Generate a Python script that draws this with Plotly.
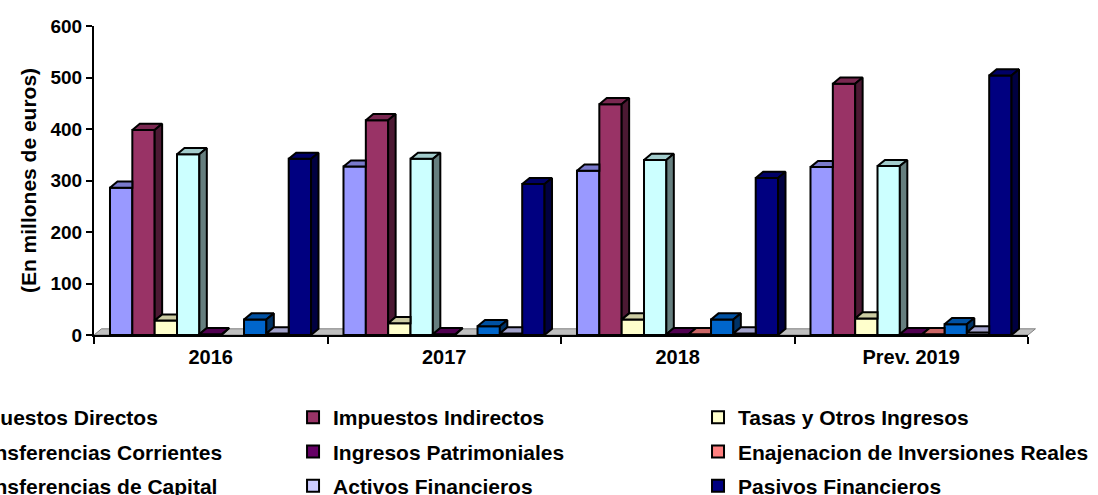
import plotly.graph_objects as go

# ---------------- data ----------------
categories = ["2016", "2017", "2018", "Prev. 2019"]
series_names = [
    "Impuestos Directos",
    "Impuestos Indirectos",
    "Tasas y Otros Ingresos",
    "Transferencias Corrientes",
    "Ingresos Patrimoniales",
    "Enajenacion de Inversiones Reales",
    "Transferencias de Capital",
    "Activos Financieros",
    "Pasivos Financieros",
]
impuestos_directos = [286, 327, 319, 326]
impuestos_indirectos = [398, 417, 448, 488]
tasas_otros = [28, 23, 30, 32]
transf_corrientes = [351, 342, 340, 328]
ingresos_patrimoniales = [1.5, 1.5, 1.5, 1.5]
enajenacion_inversiones = [0, 0, 1.5, 1.5]
transf_capital = [30, 17, 30, 21]
activos_financieros = [3, 3, 3, 5]
pasivos_financieros = [342, 293, 305, 504]
series_values = [
    impuestos_directos, impuestos_indirectos, tasas_otros,
    transf_corrientes, ingresos_patrimoniales, enajenacion_inversiones,
    transf_capital, activos_financieros, pasivos_financieros,
]
series_colors = ["#9999FF", "#993366", "#FFFFCC", "#CCFFFF", "#660066",
                 "#FF8080", "#0066CC", "#CCCCFF", "#000080"]
y_tick_values = [0, 100, 200, 300, 400, 500, 600]

# ---------------- geometry / style ----------------
FONT = "Liberation Sans, Arial, sans-serif"
n_series = len(series_names)
group_width = 0.861
bar_w = group_width / n_series
group_left = -0.4315
dx = 0.032   # 3D depth in x units
dy = 12.0    # 3D depth in y units
x_centers = list(range(len(categories)))


def shade(hex_color, f):
    h = hex_color.lstrip("#")
    r, g, b = (int(h[i:i + 2], 16) for i in (0, 2, 4))
    return "#%02x%02x%02x" % (int(r * f), int(g * f), int(b * f))


def clip(poly, axis, val, greater):
    out = []
    n = len(poly)
    for i in range(n):
        p, q = poly[i], poly[(i + 1) % n]
        pin = p[axis] >= val if greater else p[axis] <= val
        qin = q[axis] >= val if greater else q[axis] <= val
        if pin:
            out.append(p)
        if pin != qin:
            t = (val - p[axis]) / (q[axis] - p[axis])
            out.append((p[0] + t * (q[0] - p[0]), p[1] + t * (q[1] - p[1])))
    return out


def add_poly(xs, ys, poly):
    if len(poly) < 3:
        return
    for px, py in poly + [poly[0]]:
        xs.append(px)
        ys.append(py)
    xs.append(None)
    ys.append(None)


fig = go.Figure()
legend_ids = ["legend", "legend2", "legend3"]

# front faces (real bars)
for j, (name, vals, col) in enumerate(zip(series_names, series_values, series_colors)):
    fig.add_trace(go.Bar(
        x=x_centers,
        y=[v if v > 0 else None for v in vals],
        width=bar_w,
        offset=group_left + j * bar_w,
        name=name,
        legendgroup=name,
        legend=legend_ids[j % 3],
        marker=dict(color=col, line=dict(color="black", width=2)),
        hovertemplate="%{x}<br>" + name + ": %{y}<extra></extra>",
    ))

# top and side faces
for j, (name, vals, col) in enumerate(zip(series_names, series_values, series_colors)):
    tx, ty, sx, sy = [], [], [], []
    for k in range(len(categories)):
        v = vals[k]
        if v <= 0:
            continue
        left = x_centers[k] + group_left + j * bar_w
        right = left + bar_w
        vn = series_values[j + 1][k] if j + 1 < n_series else 0
        top = [(left, v), (right, v), (right + dx, v + dy), (left + dx, v + dy)]
        if vn <= v:
            add_poly(tx, ty, top)
            side = [(right, vn), (right + dx, vn + dy), (right + dx, v + dy), (right, v)]
            add_poly(sx, sy, side)
        else:
            add_poly(tx, ty, clip(top, 0, right, False))
            add_poly(tx, ty, clip(clip(top, 0, right, True), 1, vn, True))
    for xs, ys, f in ((tx, ty, 0.8), (sx, sy, 0.5)):
        if xs:
            fig.add_trace(go.Scatter(
                x=xs, y=ys, mode="lines", fill="toself",
                fillcolor=shade(col, f),
                line=dict(color="black", width=2),
                legendgroup=name, showlegend=False, hoverinfo="skip",
            ))

# floor of the 3D plot (decorative, in paper coordinates)
dxp = dx / 4.0
dyp = dy / 600.0
fig.add_shape(
    type="path", xref="paper", yref="paper", layer="below",
    path=f"M 0,0 L 1,0 L {1 + dxp},{dyp} L {dxp},{dyp} Z",
    fillcolor="#c0c0c0", line=dict(color="#808080", width=1),
)

legend_common = dict(
    xanchor="left", yanchor="top", orientation="v",
    traceorder="grouped", tracegroupgap=4,
    bgcolor="rgba(0,0,0,0)", borderwidth=0,
    font=dict(family=FONT, size=21, color="black", weight="bold"),
)
legend_y = -0.2006

fig.update_layout(
    width=1098, height=495,
    margin=dict(l=94, r=70, t=26, b=160, autoexpand=False),
    paper_bgcolor="white",
    plot_bgcolor="rgba(0,0,0,0)",
    barmode="overlay",
    font=dict(family=FONT, color="black"),
    showlegend=True,
    legend=dict(x=-0.1831, y=legend_y, **legend_common),
    legend2=dict(x=0.2131, y=legend_y, **legend_common),
    legend3=dict(x=0.6467, y=legend_y, **legend_common),
    xaxis=dict(
        range=[-0.5, 3.5],
        tickvals=x_centers, ticktext=categories,
        ticks="outside", ticklen=3, tickcolor="rgba(0,0,0,0)",
        tickfont=dict(family=FONT, size=20, color="black", weight="bold"),
        showline=True, linecolor="black", linewidth=2,
        showgrid=False, zeroline=False,
        minor=dict(tickvals=[-0.5, 0.5, 1.5, 2.5, 3.5], ticks="outside",
                   ticklen=7, tickwidth=2, tickcolor="black", showgrid=False),
    ),
    yaxis=dict(
        range=[0, 600],
        tickvals=y_tick_values,
        ticks="outside", ticklen=6, tickwidth=2, tickcolor="black",
        tickfont=dict(family=FONT, size=19, color="black", weight="bold"),
        showline=True, linecolor="black", linewidth=2,
        showgrid=False, zeroline=False,
        title=dict(text="(En millones de euros)", standoff=8,
                   font=dict(family=FONT, size=21, color="black", weight="bold")),
    ),
)

fig.write_html("out.html", config={"displayModeBar": False},
               post_script="document.body.style.margin='0';")
